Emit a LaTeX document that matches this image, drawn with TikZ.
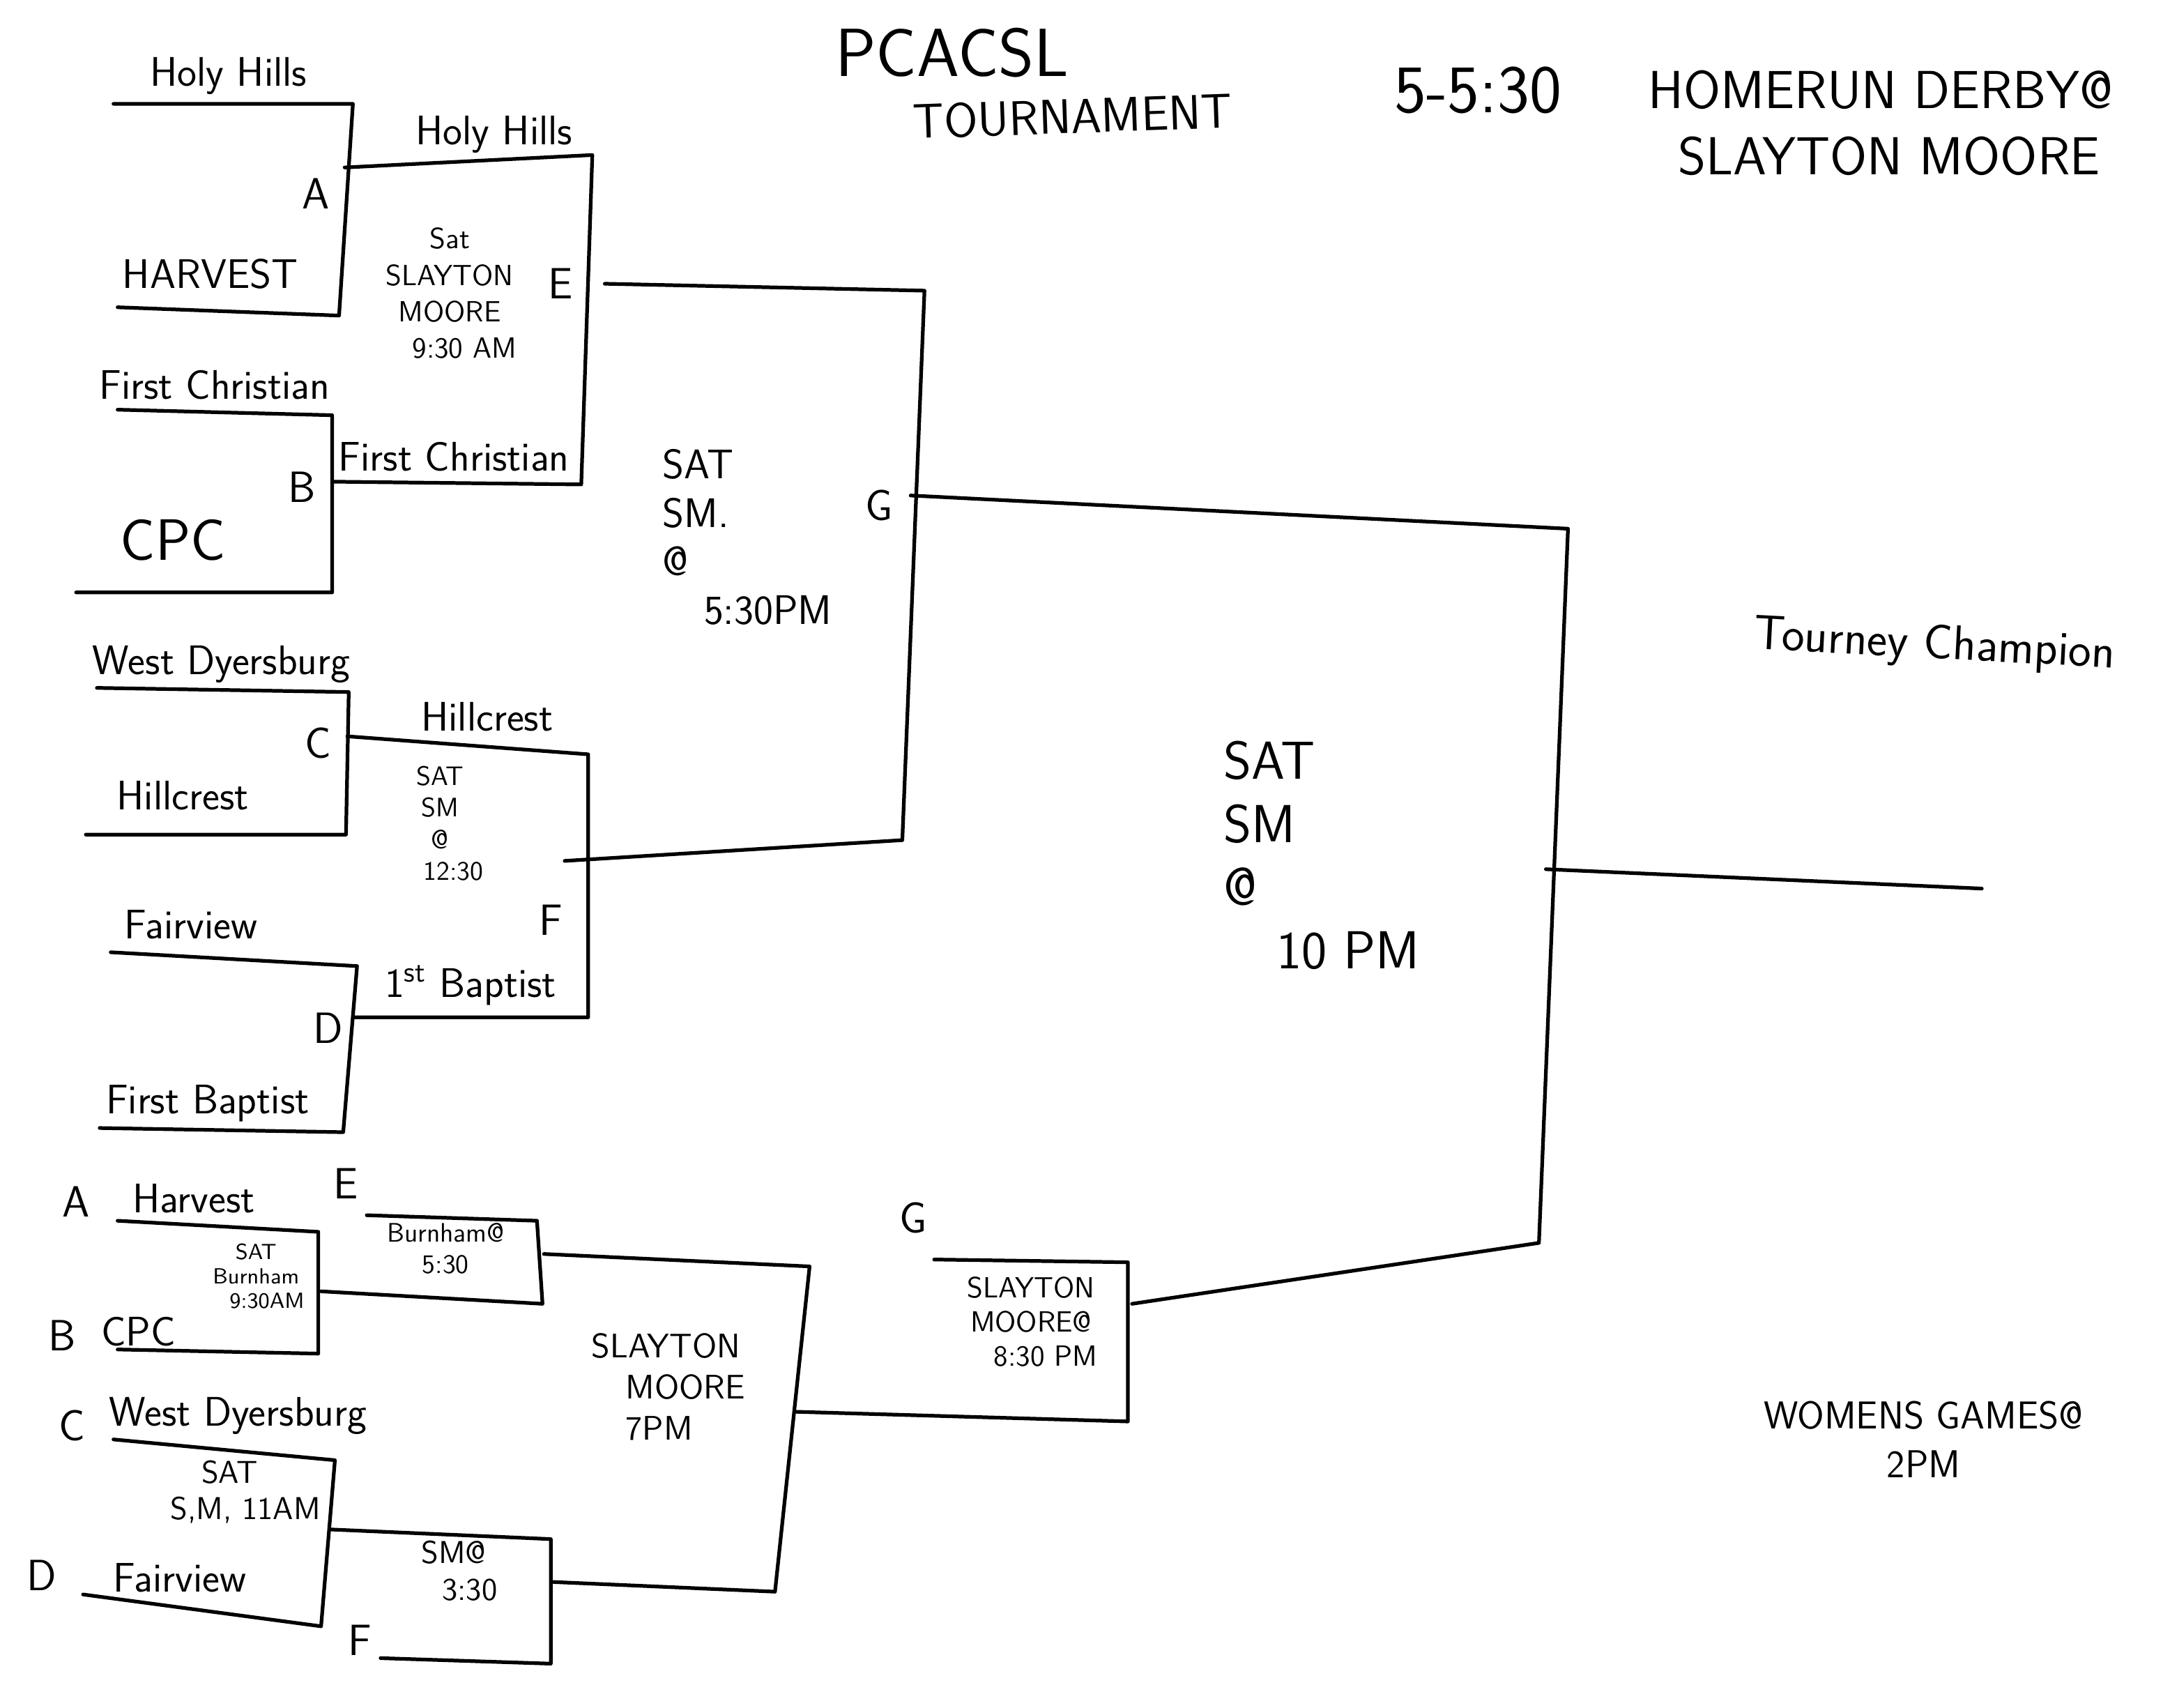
\documentclass[tikz,border=0pt]{standalone}
\usepackage{tikz}

\begin{document}
\begin{tikzpicture}
		[x=0.02cm,y=-0.02cm,
		ln/.style= {line width=1.5pt,line cap=round,line join=round},
		team/.style= {font=\fontsize{17}{19}\selectfont\sffamily},
		tag/.style= {font=\fontsize{18}{20}\selectfont\sffamily},
		note/.style= {font=\fontsize{11}{13}\selectfont\sffamily,align=center},
		big/.style= {font=\fontsize{20}{22}\selectfont\sffamily}]

		\useasboundingbox (0,0) rectangle (1568,1234);

		% heading
		\node[font=\fontsize{28}{30}\selectfont\sffamily,inner sep=1pt] (title) at (688,38) {PCACSL};
		\node[big,rotate=2,inner sep=1pt] (tourn) at (775,84) {TOURNAMENT};
		\node[font=\fontsize{28}{30}\selectfont\sffamily] (time) at (1068,65) {5-5:30};
		\node[font=\fontsize{22}{24}\selectfont\sffamily] (derby) at (1359,65) {HOMERUN DERBY@};
		\node[font=\fontsize{22}{24}\selectfont\sffamily] (derbyb) at (1365,113) {SLAYTON MOORE};

		% upper bracket, first round
		\node[team] (hh) at (165,55) {Holy Hills};
		\node[team] (harv) at (152,198) {HARVEST};
		\node[tag] (ta) at (228,140) {A};
		\coordinate (a1) at (82,75);
		\coordinate (a2) at (255,75);
		\coordinate (a3) at (245,228);
		\coordinate (a4) at (85,222);
		\coordinate (am) at (249,121);
		\draw[ln] (a1) -- (a2) -- (a3) -- (a4);

		\node[team] (fc) at (155,278) {First Christian};
		\node[font=\fontsize{24}{26}\selectfont\sffamily] (cpc) at (125,390) {CPC};
		\node[tag] (tb) at (218,352) {B};
		\coordinate (b1) at (85,296);
		\coordinate (b2) at (240,300);
		\coordinate (b3) at (240,428);
		\coordinate (b4) at (55,428);
		\coordinate (bm) at (240,348);
		\draw[ln] (b1) -- (b2) -- (b3) -- (b4);

		\node[team] (wd) at (160,480) {West Dyersburg};
		\node[team] (hc) at (132,575) {Hillcrest};
		\node[tag] (tc) at (230,537) {C};
		\coordinate (c1) at (70,497);
		\coordinate (c2) at (252,500);
		\coordinate (c3) at (250,603);
		\coordinate (c4) at (62,603);
		\coordinate (cm) at (251,532);
		\draw[ln] (c1) -- (c2) -- (c3) -- (c4);

		\node[team] (fv) at (138,668) {Fairview};
		\node[team] (fb) at (150,797) {First Baptist};
		\node[tag] (td) at (237,743) {D};
		\coordinate (d1) at (80,688);
		\coordinate (d2) at (258,698);
		\coordinate (d3) at (248,818);
		\coordinate (d4) at (72,815);
		\coordinate (dm) at (255,735);
		\draw[ln] (d1) -- (d2) -- (d3) -- (d4);

		% upper bracket, second round
		\node[team] (hhb) at (357,97) {Holy Hills};
		\node[team] (fcb) at (328,330) {First Christian};
		\node[tag] (te) at (405,205) {E};
		\node[note,font=\fontsize{12}{15}\selectfont\sffamily] (ebox) at (325,212) {Sat\\SLAYTON\\MOORE\\\quad 9:30 AM};
		\coordinate (e1) at (428,112);
		\coordinate (e2) at (420,350);
		\draw[ln] (am) -- (e1) -- (e2) -- (bm);

		\node[team] (hcb) at (352,518) {Hillcrest};
		\node[team] (fbb) at (340,712) {1\textsuperscript{st} Baptist};
		\node[tag] (tf) at (398,665) {F};
		\node[note] (fbox) at (318,595) {SAT\\SM\\@\\\quad 12:30};
		\coordinate (f1) at (425,545);
		\coordinate (f2) at (425,735);
		\draw[ln] (cm) -- (f1) -- (f2) -- (dm);

		% upper bracket, third round
		\coordinate (eo) at (437,205);
		\coordinate (fo) at (408,622);
		\coordinate (g1) at (668,210);
		\coordinate (g2) at (652,607);
		\coordinate (gm) at (658,358);
		\draw[ln] (eo) -- (g1) -- (g2) -- (fo);
		\node[tag] (tg) at (635,365) {G};
		\node[big,align=left,font=\fontsize{17}{20}\selectfont\sffamily] (gbox) at (540,388) {SAT\\SM.\\@\\\quad 5:30PM};

		% lower bracket
		\node[tag] (la) at (55,868) {A};
		\node[team] (lharv) at (140,866) {Harvest};
		\node[tag] (lb) at (45,965) {B};
		\node[team] (lcpc) at (100,962) {CPC};
		\node[note,font=\fontsize{9}{10}\selectfont\sffamily,inner sep=1pt] (labbox) at (185,922) {SAT\\Burnham\\\quad 9:30AM};
		\coordinate (la1) at (85,882);
		\coordinate (la2) at (230,890);
		\coordinate (la3) at (230,978);
		\coordinate (la4) at (85,975);
		\coordinate (lam) at (232,933);
		\draw[ln] (la1) -- (la2) -- (la3) -- (la4);

		\node[tag] (lc) at (52,1030) {C};
		\node[team] (lwd) at (172,1023) {West Dyersburg};
		\node[tag] (ld) at (30,1138) {D};
		\node[team] (lfv) at (130,1140) {Fairview};
		\node[note,font=\fontsize{13}{15}\selectfont\sffamily] (lcdbox) at (166,1078) {SAT\\\quad S,M, 11AM};
		\coordinate (lc1) at (82,1040);
		\coordinate (lc2) at (242,1055);
		\coordinate (lc3) at (232,1175);
		\coordinate (lc4) at (60,1152);
		\coordinate (lcm) at (238,1105);
		\draw[ln] (lc1) -- (lc2) -- (lc3) -- (lc4);

		\node[tag] (le) at (250,855) {E};
		\node[note] (lebox) at (322,902) {Burnham@\\5:30};
		\coordinate (le1) at (265,878);
		\coordinate (le2) at (388,882);
		\coordinate (le3) at (392,942);
		\draw[ln] (le1) -- (le2) -- (le3) -- (lam);

		\node[tag] (lf) at (260,1185) {F};
		\node[note,font=\fontsize{13}{15}\selectfont\sffamily] (lfbox) at (328,1135) {SM@\\\quad 3:30};
		\coordinate (lf1) at (398,1112);
		\coordinate (lf2) at (398,1202);
		\coordinate (lf3) at (275,1198);
		\draw[ln] (lcm) -- (lf1) -- (lf2) -- (lf3);

		\coordinate (leo) at (393,906);
		\coordinate (lfo) at (400,1143);
		\coordinate (s1) at (585,915);
		\coordinate (s2) at (560,1150);
		\coordinate (sm) at (575,1020);
		\draw[ln] (leo) -- (s1) -- (s2) -- (lfo);
		\node[note,align=left,font=\fontsize{14}{17}\selectfont\sffamily] (sbox) at (483,1002) {SLAYTON\\\quad MOORE\\\quad 7PM};

		\node[tag] (lg) at (660,880) {G};
		\node[note,font=\fontsize{12}{14}\selectfont\sffamily] (lgbox) at (745,955) {SLAYTON\\MOORE@\\\quad 8:30 PM};
		\coordinate (lg1) at (675,910);
		\coordinate (lg2) at (815,912);
		\coordinate (lg3) at (815,1027);
		\coordinate (lgo) at (818,942);
		\draw[ln] (lg1) -- (lg2) -- (lg3) -- (sm);

		% final
		\coordinate (h1) at (1133,382);
		\coordinate (h2) at (1112,898);
		\coordinate (hm) at (1117,628);
		\coordinate (ch) at (1432,642);
		\draw[ln] (gm) -- (h1) -- (h2) -- (lgo);
		\draw[ln] (hm) -- (ch);
		\node[align=left,font=\fontsize{22}{26}\selectfont\sffamily] (hbox) at (955,618) {SAT\\SM\\@\\\quad 10 PM};
		\node[font=\fontsize{20}{22}\selectfont\sffamily,rotate=-3] (champ) at (1398,467) {Tourney Champion};
		\node[align=center,font=\fontsize{16}{20}\selectfont\sffamily] (women) at (1390,1040) {WOMENS GAMES@\\2PM};

	\end{tikzpicture}
\end{document}
